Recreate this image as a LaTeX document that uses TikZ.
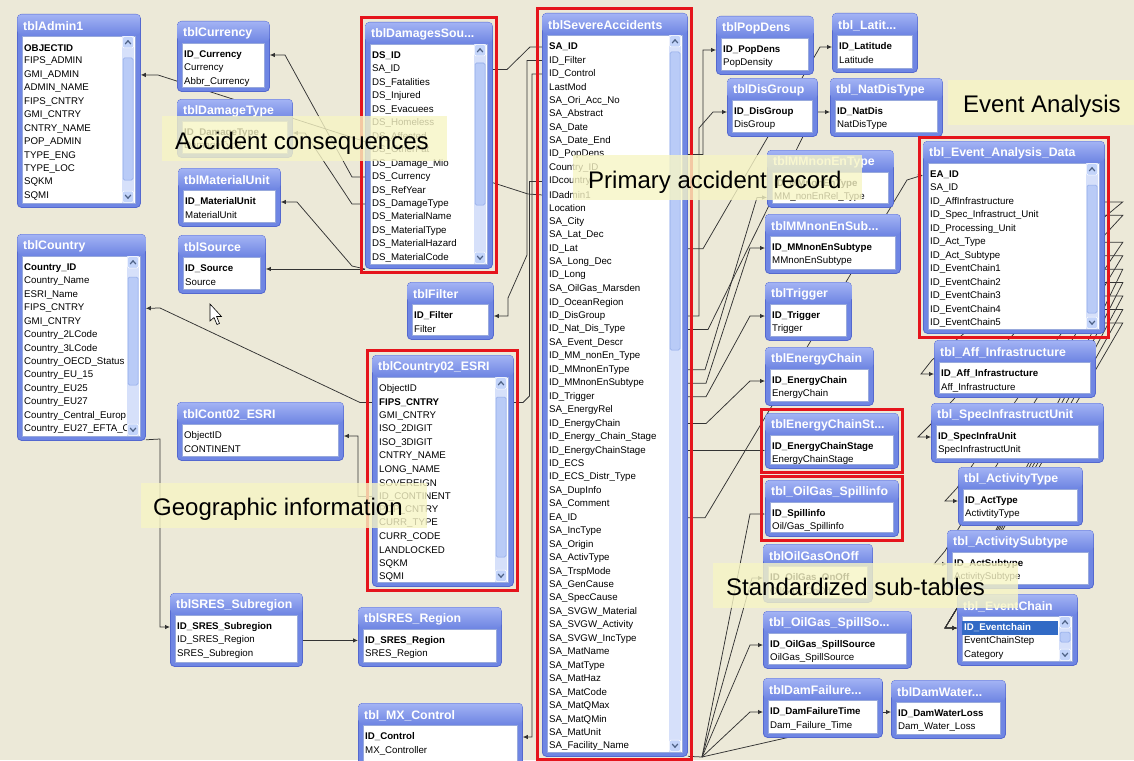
\documentclass[tikz,border=0pt]{standalone}
\usepackage{fontspec}
\setmainfont{Liberation Sans}
\usetikzlibrary{arrows.meta}
\pgfdeclarelayer{bgl}\pgfdeclarelayer{lnl}\pgfdeclarelayer{topl}
\pgfsetlayers{bgl,lnl,main,topl}
\definecolor{bgc}{HTML}{ECE9D8}
\definecolor{tblblue}{HTML}{6F86E3}
\definecolor{tbltop}{HTML}{A3B3F4}
\definecolor{tblborder}{HTML}{5468CF}
\definecolor{listbd}{HTML}{98A9DC}
\definecolor{sbtrack}{HTML}{D6E0FA}
\definecolor{sbthumb}{HTML}{B9CBF7}
\definecolor{sbthumbd}{HTML}{8FA9E8}
\definecolor{sbbtn}{HTML}{C3D4FA}
\definecolor{chev}{HTML}{4D6185}
\definecolor{redfr}{HTML}{E5141C}
\definecolor{banner}{HTML}{F7F5C5}
\definecolor{selblue}{HTML}{316AC5}
\definecolor{lnc}{HTML}{333333}
\tikzset{
 tbl/.style={draw=tblborder, fill=tblblue, line width=0.8pt, rounded corners=4pt, inner sep=0pt, anchor=north west},
 ttl/.style={font=\fontsize{12.3}{13}\selectfont\bfseries, text=white, inner sep=0pt, anchor=west},
 rowt/.style={font=\fontsize{9.7}{10}\selectfont, inner sep=0pt, anchor=west, text=black},
 conn/.style={draw=lnc, line width=0.75pt},
 arr/.style={conn, -{Latex[length=5pt,width=4.5pt]}},
 redbox/.style={draw=redfr, line width=3pt},
 bnr/.style={fill=banner, fill opacity=0.8, draw=none, inner sep=0pt, anchor=north west},
 btxt/.style={font=\fontsize{24}{26}\selectfont, text=black, inner sep=0pt, anchor=base west},
 sbbtnst/.style={fill=sbbtn, draw=white, line width=0.5pt, rounded corners=1.5pt},
 sbchev/.style={draw=chev, line width=1.2pt},
}
\newcommand\dbt[7]{%
 \node[tbl, minimum width=#4pt, minimum height=#5pt] (#1) at (#2,#3) {};
 \shade[top color=tbltop, bottom color=tblblue, rounded corners=4pt] ([shift={(0.4pt,-0.4pt)}]#1.north west) rectangle ([shift={(-0.4pt,-21pt)}]#1.north east);
 \node[ttl] (#1-t) at ([shift={(6pt,-12.5pt)}]#1.north west) {#6};
 \filldraw[fill=white, draw=listbd, line width=0.8pt] ([shift={(5pt,-22pt)}]#1.north west) rectangle ([shift={(-5pt,4pt)}]#1.south east);
 \foreach \r [count=\i] in {#7} {%
   \pgfmathsetmacro\ry{-34-(\i-1)*13.45}
   \node[rowt] (#1-\i) at ([shift={(7pt,\ry pt)}]#1.north west) {\r};
 }%
}
\newcommand\scb[5]{%
 \fill[sbtrack] (#1,#2) rectangle (#1+12,#3);
 \draw[draw=sbthumbd, fill=sbthumb, rounded corners=1.5pt, line width=0.5pt] (#1+1,#4) rectangle (#1+11,#5);
 \draw[sbbtnst] (#1+0.5,#2+0.5) rectangle (#1+11.5,#2+12);
 \draw[sbchev] (#1+3.2,#2+8) -- (#1+6,#2+4.8) -- (#1+8.8,#2+8);
 \draw[sbbtnst] (#1+0.5,#3-12) rectangle (#1+11.5,#3-0.5);
 \draw[sbchev] (#1+3.2,#3-8) -- (#1+6,#3-4.8) -- (#1+8.8,#3-8);
}
\begin{document}
\begin{tikzpicture}[x=1pt,y=-1pt]
\useasboundingbox (0,0) rectangle (1134,760);
\begin{pgfonlayer}{bgl}
\fill[bgc] (0,0) rectangle (1134,760);
\end{pgfonlayer}

% ---------- tables ----------
\dbt{adm}{17}{14}{123}{193}{tblAdmin1}{\bfseries OBJECTID,FIPS\_ADMIN,GMI\_ADMIN,ADMIN\_NAME,FIPS\_CNTRY,GMI\_CNTRY,CNTRY\_NAME,POP\_ADMIN,TYPE\_ENG,TYPE\_LOC,SQKM,SQMI}
\scb{122}{36}{203}{58}{180}
\dbt{cur}{177}{21}{92}{70}{tblCurrency}{\bfseries ID\_Currency,Currency,Abbr\_Currency}
\dbt{dmt}{177}{99}{115}{58}{tblDamageType}{\bfseries ID\_DamageType,DamageType}
\dbt{mat}{178}{168}{102}{58}{tblMaterialUnit}{\bfseries ID\_MaterialUnit,MaterialUnit}
\dbt{src}{178}{235}{87}{58}{tblSource}{\bfseries ID\_Source,Source}
\dbt{ds}{365}{22}{127}{246}{tblDamagesSou...}{\bfseries DS\_ID,SA\_ID,DS\_Fatalities,DS\_Injured,DS\_Evacuees,DS\_Homeless,DS\_Affected,DS\_OtherFat,DS\_Damage\_Mio,DS\_Currency,DS\_RefYear,DS\_DamageType,DS\_MaterialName,DS\_MaterialType,DS\_MaterialHazard,DS\_MaterialCode}
\scb{474}{44}{264}{63}{205}
\dbt{sa}{542}{13}{145}{743}{tblSevereAccidents}{\bfseries SA\_ID,ID\_Filter,ID\_Control,LastMod,SA\_Ori\_Acc\_No,SA\_Abstract,SA\_Date,SA\_Date\_End,ID\_PopDens,Country\_ID,IDcountry,IDadmin1,Location,SA\_City,SA\_Lat\_Dec,ID\_Lat,SA\_Long\_Dec,ID\_Long,SA\_OilGas\_Marsden,ID\_OceanRegion,ID\_DisGroup,ID\_Nat\_Dis\_Type,SA\_Event\_Descr,ID\_MM\_nonEn\_Type,ID\_MMnonEnType,ID\_MMnonEnSubtype,ID\_Trigger,SA\_EnergyRel,ID\_EnergyChain,ID\_Energy\_Chain\_Stage,ID\_EnergyChainStage,ID\_ECS,ID\_ECS\_Distr\_Type,SA\_DupInfo,SA\_Comment,EA\_ID,SA\_IncType,SA\_Origin,SA\_ActivType,SA\_TrspMode,SA\_GenCause,SA\_SpecCause,SA\_SVGW\_Material,SA\_SVGW\_Activity,SA\_SVGW\_IncType,SA\_MatName,SA\_MatType,SA\_MatHaz,SA\_MatCode,SA\_MatQMax,SA\_MatQMin,SA\_MatUnit,SA\_Facility\_Name}
\scb{669}{35}{752}{52}{350}
\dbt{fil}{407}{282}{86}{57}{tblFilter}{\bfseries ID\_Filter,Filter}
\dbt{c02}{372}{355}{141}{231}{tblCountry02\_ESRI}{ObjectID,\bfseries FIPS\_CNTRY,GMI\_CNTRY,ISO\_2DIGIT,ISO\_3DIGIT,CNTRY\_NAME,LONG\_NAME,SOVEREIGN,ID\_CONTINENT,POP\_CNTRY,CURR\_TYPE,CURR\_CODE,LANDLOCKED,SQKM,SQMI}
\scb{495}{377}{582}{397}{557}
\dbt{cty}{17}{234}{128}{206}{tblCountry}{\bfseries Country\_ID,Country\_Name,ESRI\_Name,FIPS\_CNTRY,GMI\_CNTRY,Country\_2LCode,Country\_3LCode,Country\_OECD\_Status,Country\_EU\_15,Country\_EU25,Country\_EU27,Country\_Central\_Europ,Country\_EU27\_EFTA\_C}
\scb{127}{256}{436}{277}{385}
\dbt{cont}{177}{402}{166}{58}{tblCont02\_ESRI}{ObjectID,CONTINENT}
\dbt{sub}{170}{593}{132}{73}{tblSRES\_Subregion}{\bfseries ID\_SRES\_Subregion,ID\_SRES\_Region,SRES\_Subregion}
\dbt{reg}{358}{607}{143}{59}{tblSRES\_Region}{\bfseries ID\_SRES\_Region,SRES\_Region}
\dbt{mx}{358}{703}{164}{62}{tbl\_MX\_Control}{\bfseries ID\_Control,MX\_Controller}
\dbt{pop}{716}{16}{97}{58}{tblPopDens}{\bfseries ID\_PopDens,PopDensity}
\dbt{lat}{832}{13}{85}{59}{tbl\_Latit...}{\bfseries ID\_Latitude,Latitude}
\dbt{dis}{727}{78}{90}{58}{tblDisGroup}{\bfseries ID\_DisGroup,DisGroup}
\dbt{nat}{830}{78}{112}{58}{tbl\_NatDisType}{\bfseries ID\_NatDis,NatDisType}
\dbt{mmt}{767}{150}{126}{57}{tblMMnonEnType}{\bfseries ID\_MMnonEnType,MM\_nonEnRel\_Type}
\dbt{mms}{765}{214}{135}{59}{tblMMnonEnSub...}{\bfseries ID\_MMnonEnSubtype,MMnonEnSubtype}
\dbt{trg}{765}{282}{86}{58}{tblTrigger}{\bfseries ID\_Trigger,Trigger}
\dbt{ech}{765}{347}{108}{58}{tblEnergyChain}{\bfseries ID\_EnergyChain,EnergyChain}
\dbt{ecs}{765}{413}{133}{55}{tblEnergyChainSt...}{\bfseries ID\_EnergyChainStage,EnergyChainStage}
\dbt{spi}{765}{480}{133}{56}{tbl\_OilGas\_Spillinfo}{\bfseries ID\_Spillinfo,Oil/Gas\_Spillinfo}
\dbt{onf}{763}{544}{109}{58}{tblOilGasOnOff}{\bfseries ID\_OilGas\_OnOff,OilGas\_OnOff}
\dbt{sps}{763}{611}{148}{57}{tbl\_OilGas\_SpillSo...}{\bfseries ID\_OilGas\_SpillSource,OilGas\_SpillSource}
\dbt{dft}{763}{678}{119}{59}{tblDamFailure...}{\bfseries ID\_DamFailureTime,Dam\_Failure\_Time}
\dbt{dwl}{891}{680}{114}{58}{tblDamWater...}{\bfseries ID\_DamWaterLoss,Dam\_Water\_Loss}
\dbt{ead}{923}{141}{181}{192}{tbl\_Event\_Analysis\_Data}{\bfseries EA\_ID,SA\_ID,ID\_AffInfrastructure,ID\_Spec\_Infrastruct\_Unit,ID\_Processing\_Unit,ID\_Act\_Type,ID\_Act\_Subtype,ID\_EventChain1,ID\_EventChain2,ID\_EventChain3,ID\_EventChain4,ID\_EventChain5}
\scb{1086}{163}{329}{185}{313}
\dbt{aff}{934}{340}{161}{57}{tbl\_Aff\_Infrastructure}{\bfseries ID\_Aff\_Infrastructure,Aff\_Infrastructure}
\dbt{spu}{931}{403}{172}{59}{tbl\_SpecInfrastructUnit}{\bfseries ID\_SpecInfraUnit,SpecInfrastructUnit}
\dbt{act}{958}{467}{124}{58}{tbl\_ActivityType}{\bfseries ID\_ActType,ActivtityType}
\dbt{asb}{947}{530}{146}{58}{tbl\_ActivitySubtype}{\bfseries ID\_ActSubtype,ActivitySubtype}
\dbt{evc}{957}{594}{120}{71}{tbl\_EventChain}{{},EventChainStep,Category}
\fill[selblue] (962,621) rectangle (1058,635);
\node[rowt, text=white, font=\fontsize{9.7}{10}\selectfont\bfseries] (evcsel) at (evc-1.west) {ID\_Eventchain};
\scb{1059}{616}{661}{632}{642}

% ---------- red frames ----------
\draw[redbox] (361,18) rectangle (496,272);
\draw[redbox] (537,9) rectangle (691,759);
\draw[redbox] (367,350) rectangle (517,590);
\draw[redbox] (761,409) rectangle (902,472.5);
\draw[redbox] (761,476.5) rectangle (902,540);
\draw[redbox] (919,137) rectangle (1108,337);

% ---------- connectors ----------
\begin{pgfonlayer}{lnl}
\draw[arr] (sa.west |- sa-12) -- (528,194) -- (158,75) -- (adm.east |- adm-3);
\draw[arr] (ds.west |- ds-10) -- (352,177) -- (285,55) -- (cur.east |- cur-1);
\draw[arr] (ds.west |- ds-12) -- (352,204) -- (305,133) -- (dmt.east |- dmt-1);
\draw[arr] (ds.west |- src-1) -- (352,266) -- (297,202) -- (mat.east |- mat-1);
\draw[arr] (ds.west |- src-1) -- (src.east |- src-1);
\draw[conn] (ds.east |- ds-2) -- (507,69.5) -- (530,47) -- (sa.west |- sa-1);
\draw[arr] (sa.west |- sa-2) -- (527,60.5) -- (527,255) -- (508,298) -- (508,316) -- (fil.east |- fil-1);
\draw[arr] (sa.west |- sa-3) -- (532,74) -- (532,737) -- (mx.east |- mx-1);
\draw[conn] (sa.west |- sa-11) -- (529.5,181.5) -- (529.5,396) -- (523,402.5) -- (c02.east |- c02-2);
\draw[arr] (c02.west |- c02-2) -- (360,402.5) -- (160,308) -- (cty.east |- cty-4);
\draw[arr] (c02.west |- c02-9) -- (358,496.6) -- (358,436) -- (cont.east |- cont-1);
\draw[arr] ([yshift=1pt]cty.south east) -- (160,439) -- (160,627) -- (sub.west |- sub-1);
\draw[arr] (sub.east |- sub-2) -- (reg.west |- sub-2);
\draw[arr] (sa.east |- sa-9) -- (703,154.6) -- (703,50) -- (pop.west |- pop-1);
\draw[arr] (sa.east |- sa-16) -- (703,248.75) -- (820,47) -- (lat.west |- lat-1);
\draw[arr] (sa.east |- sa-21) -- (699,316) -- (699,128) -- (713,112) -- (dis.west |- dis-1);
\draw[arr] (sa.east |- sa-22) -- (708,329.5) -- (815,112) -- (nat.west |- nat-1);
\draw[arr] (sa.east |- sa-25) -- (705,369.8) -- (757,197.5) -- (mmt.west |- mmt-2);
\draw[arr] (sa.east |- sa-26) -- (706,383.3) -- (750,248) -- (mms.west |- mms-1);
\draw[arr] (sa.east |- sa-27) -- (706,396.7) -- (750,316) -- (trg.west |- trg-1);
\draw[arr] (sa.east |- sa-29) -- (706,423.6) -- (750,381) -- (ech.west |- ech-1);
\draw[arr] (sa.east |- sa-31) -- (ecs.west |- sa-31);
\draw[arr] (sa.east |- sa-36) -- (705,517.8) -- (907,180) -- (ead.west |- ead-1);
\coordinate (fan) at (702,757);
\draw[conn] ([yshift=0.5pt]sa.south east) -- (fan);
\draw[arr] (fan) -- (750,514) -- (spi.west |- spi-1);
\draw[arr] (fan) -- (752,578) -- (onf.west |- onf-1);
\draw[arr] (fan) -- (750,645) -- (sps.west |- sps-1);
\draw[arr] (fan) -- (750,712) -- (dft.west |- dft-1);
\coordinate (dfb) at (790,737);
\draw[conn] (fan) -- (dfb);
\draw[arr] (dft.east |- dft-1) -- (dwl.west |- dft-1);
\draw[arr] (ead.east |- ead-3) -- ++(18pt,0pt) -- (932,360) -- (921,374) -- (aff.west |- aff-1);
\draw[arr] (ead.east |- ead-4) -- ++(18pt,0pt) -- (930,425) -- (918,437) -- (spu.west |- spu-1);
\draw[arr] (ead.east |- ead-6) -- ++(18pt,0pt) -- (957,488) -- (945,501) -- (act.west |- act-1);
\draw[arr] (ead.east |- ead-7) -- ++(18pt,0pt) -- (945,551) -- (934,564) -- (asb.west |- asb-1);
\foreach \k in {8,...,12}{
  \draw[arr] (ead.east |- ead-\k) -- ++(18pt,0pt) -- (962,600) -- (945,628) -- (evc.west |- evc-1);
}
\end{pgfonlayer}

% ---------- banners ----------
\begin{pgfonlayer}{topl}
\node[bnr, minimum width=285pt, minimum height=45pt] (b1) at (162,116) {};
\node[btxt] (b1t) at (175,149) {Accident consequences};
\node[bnr, minimum width=289pt, minimum height=45pt] (b2) at (573,155) {};
\node[btxt] (b2t) at (588,188) {Primary accident record};
\node[bnr, minimum width=286pt, minimum height=45pt] (b3) at (141,483) {};
\node[btxt] (b3t) at (153,515) {Geographic information};
\node[bnr, minimum width=186pt, minimum height=45pt] (b4) at (948,80) {};
\node[btxt] (b4t) at (963,112) {Event Analysis};
\node[bnr, minimum width=305pt, minimum height=45pt] (b5) at (713,563) {};
\node[btxt] (b5t) at (726,595) {Standardized sub-tables};
\draw[fill=white, draw=black, line width=0.6pt] (210,304) -- (210,321) -- (214,317.5) -- (217,324.5) -- (219.5,323.5) -- (216.6,316.5) -- (221.5,316.5) -- cycle;
\end{pgfonlayer}
\end{tikzpicture}
\end{document}
